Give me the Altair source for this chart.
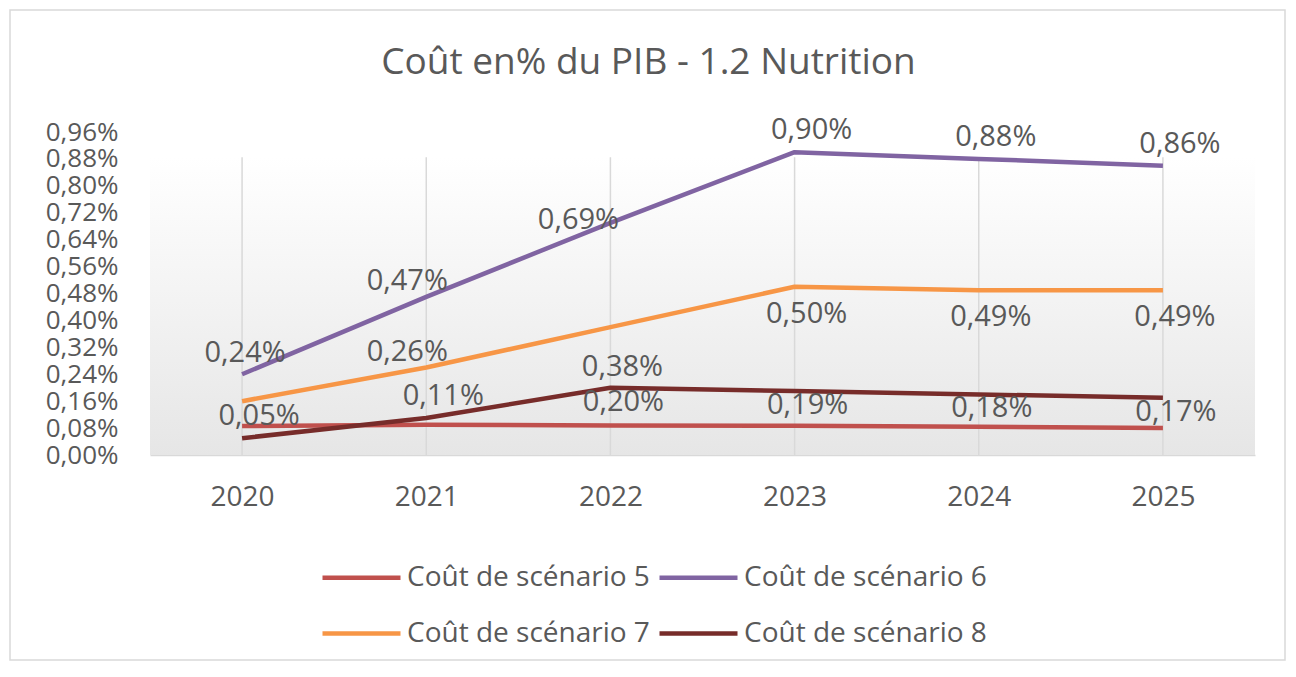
import altair as alt
import pandas as pd

# ---------------- data ----------------
YEARS = ["2020", "2021", "2022", "2023", "2024", "2025"]
SERIES = ["Coût de scénario 5", "Coût de scénario 6", "Coût de scénario 7", "Coût de scénario 8"]
S5 = [0.086, 0.090, 0.088, 0.087, 0.084, 0.080]
S6 = [0.24, 0.47, 0.69, 0.90, 0.88, 0.86]
S7 = [0.16, 0.26, 0.38, 0.50, 0.49, 0.49]
S8 = [0.05, 0.11, 0.20, 0.19, 0.18, 0.17]
Y_TICKS = [0.00, 0.08, 0.16, 0.24, 0.32, 0.40, 0.48, 0.56, 0.64, 0.72, 0.80, 0.88, 0.96]
TITLE = "Coût en% du PIB - 1.2 Nutrition"

# ---------------- styles ----------------
COLORS = ["#C0504D", "#8064A2", "#F79646", "#772C2A"]
TEXT = "#595959"
FONT = "Open Sans"
GRID_TOP = 0.885
W, H = 1105, 323

# where each data label sits relative to its point (None = hidden)
PLACE = {
    SERIES[0]: [None, None, None, None, None, None],
    SERIES[1]: ["above_c", "above_left", "left", "above", "above", "above"],
    SERIES[2]: [None, "above_left", "below_far", "below", "below", "below"],
    SERIES[3]: ["above", "above", "below_near", "below_near", "below_near", "below_near"],
}
OFFSETS = {
    "above": (17, -22),
    "above_c": (3, -21),
    "above_left": (-19, -16),
    "left": (-32, -3),
    "below": (12, 27),
    "below_far": (12, 40),
    "below_near": (13, 14),
}

rows = []
for name, vals in zip(SERIES, [S5, S6, S7, S8]):
    for yr, v, p in zip(YEARS, vals, PLACE[name]):
        rows.append({
            "year": yr,
            "series": name,
            "value": v,
            "place": p if p else "none",
            "label": f"{v:.2f}".replace(".", ",") + "%",
        })
df = pd.DataFrame(rows)

x_enc = alt.X(
    "year:O",
    sort=YEARS,
    scale=alt.Scale(type="point", padding=0.5),
    axis=alt.Axis(
        title=None, labelAngle=0, labelFont=FONT, labelFontSize=28, labelColor=TEXT,
        labelPadding=28, tickSize=0, domainColor="#d9d9d9", domainWidth=1.5, grid=False,
    ),
)
y_axis = alt.Axis(
    title=None, values=Y_TICKS, labelFont=FONT, labelFontSize=26, labelColor=TEXT,
    labelPadding=32, tickSize=0, ticks=False, domain=False, grid=False,
    labelOverlap=False, labelSeparation=0,
    labelExpr="replace(format(datum.value, '.2f'), '.', ',') + '%'",
)
y_scale = alt.Scale(domain=[0, 0.96], nice=False, zero=True)
y_enc = alt.Y("value:Q", scale=y_scale, axis=y_axis)

one = alt.Data(values=[{}])

background = alt.Chart(one).mark_rect(
    fill=alt.Gradient(
        gradient="linear",
        stops=[alt.GradientStop(offset=0, color="#ffffff"),
               alt.GradientStop(offset=1, color="#e6e6e6")],
        x1=0, x2=0, y1=0, y2=1,
    ),
    strokeWidth=0,
).encode(
    x=alt.value(0), x2=alt.value(W),
    y=alt.YDatum(GRID_TOP, type="quantitative", scale=y_scale, axis=y_axis),
    y2=alt.datum(0),
)

grid = alt.Chart(df).transform_filter(
    alt.datum.series == SERIES[0]
).mark_rule(color="#d9d9d9", strokeWidth=1.5).encode(
    x=x_enc,
    y=alt.YDatum(0, type="quantitative", scale=y_scale, axis=y_axis),
    y2=alt.datum(GRID_TOP),
)

lines = alt.Chart(df).mark_line(strokeWidth=4.5, strokeJoin="round").encode(
    x=x_enc,
    y=y_enc,
    color=alt.Color(
        "series:N",
        sort=SERIES,
        scale=alt.Scale(domain=SERIES, range=COLORS),
        legend=alt.Legend(
            title=None, orient="none", legendX=170, legendY=404, direction="horizontal",
            columns=2, symbolType="stroke", symbolSize=6084, symbolStrokeWidth=4.5,
            labelFont=FONT, labelFontSize=28, labelColor=TEXT, labelOffset=4,
            columnPadding=0, rowPadding=0, labelLimit=400,
        ),
    ),
    order=alt.Order("year:O"),
)

label_layers = []
for key, (dx, dy) in OFFSETS.items():
    label_layers.append(
        alt.Chart(df).transform_filter(alt.datum.place == key).mark_text(
            dx=dx, dy=dy, align="center", baseline="middle",
            font=FONT, fontSize=29, color=TEXT,
        ).encode(x=x_enc, y=y_enc, text="label:N")
    )

border = alt.Chart(one).mark_rect(
    fill=None, stroke="#d9d9d9", strokeWidth=1.5
).encode(
    x=alt.value(-140), x2=alt.value(W + 30),
    y=alt.value(-122), y2=alt.value(H + 205),
)

chart = alt.layer(background, grid, lines, *label_layers, border).properties(
    width=W,
    height=H,
    background="white",
    title=alt.TitleParams(
        TITLE, font=FONT, fontSize=37, fontWeight="normal", color=TEXT,
        anchor="middle", dx=-54, offset=-73,
    ),
    autosize=alt.AutoSizeParams(type="none"),
    padding={"left": 142, "top": 124, "right": 33, "bottom": 212},
).configure_view(stroke=None, strokeWidth=0).configure_axis(labelOverlap=False)

chart.save("out.html", embed_options={"renderer": "svg", "actions": False})
